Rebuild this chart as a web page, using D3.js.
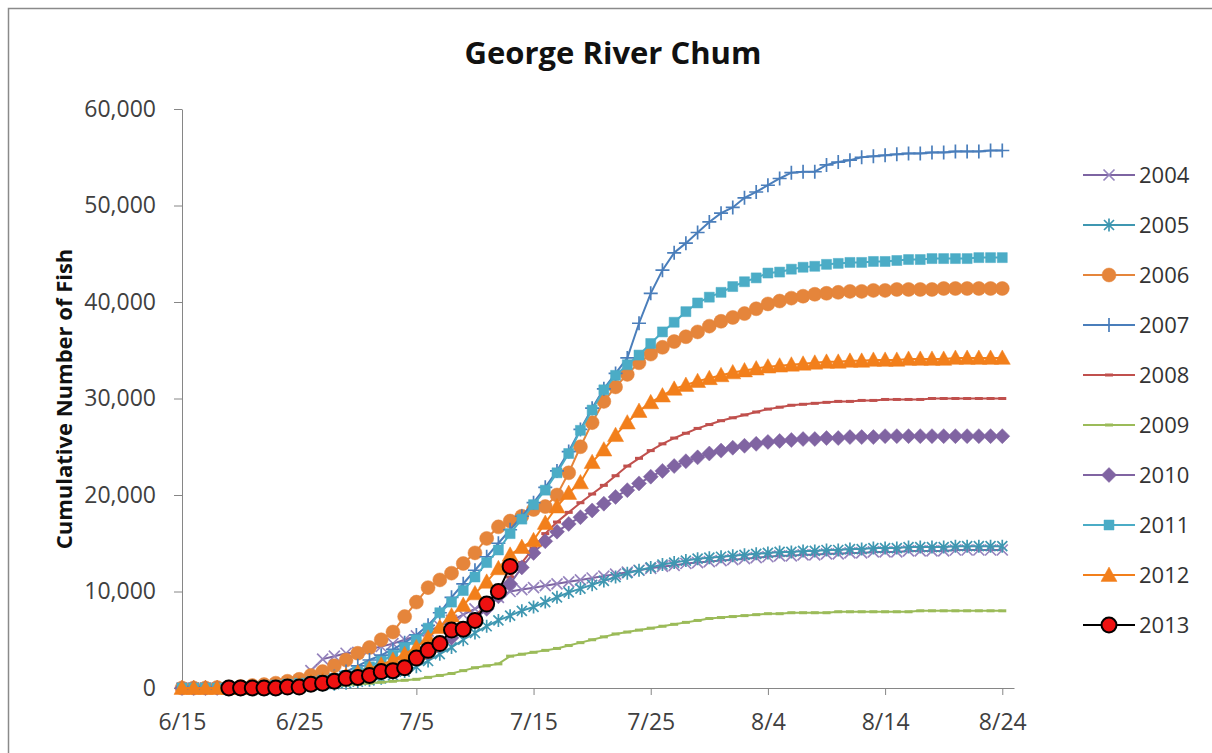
<!DOCTYPE html>
<html>
<head>
<meta charset="utf-8">
<script src="https://cdn.jsdelivr.net/npm/d3@7"></script>
<style>
  body { margin: 0; background: #fff; }
  svg { display: block; }
</style>
</head>
<body>
<svg id="chart" width="1212" height="753"></svg>
<script>
// daily cumulative counts, index 0 = 6/15 ... index 70 = 8/24
const startDay = "2013-06-15";
const endDay = "2013-08-25";
const years = ["2004", "2005", "2006", "2007", "2008", "2009", "2010", "2011", "2012", "2013"];
const yTicks = [0, 10000, 20000, 30000, 40000, 50000, 60000];
const xTickDays = [0, 10, 20, 30, 40, 50, 60, 70];

const y2004 = [0,0,0,0,0,50,100,150,250,400,
  700,1800,3000,3300,3600,3700,4000,4300,4600,5000,
  5400,5900,6400,7000,7600,8200,8800,9400,10000,10200,
  10400,10600,10800,11000,11200,11400,11600,11800,12000,12200,
  12400,12600,12700,12900,13000,13100,13200,13300,13400,13500,
  13600,13700,13700,13800,13800,13900,13900,14000,14000,14100,
  14100,14100,14200,14200,14200,14200,14300,14300,14300,14300,
  14300];
const y2005 = [0,0,0,0,0,0,0,50,100,150,
  200,250,300,400,500,650,800,1000,1300,1700,
  2200,2800,3500,4200,5000,5700,6400,7000,7500,8000,
  8400,8900,9400,9900,10300,10700,11100,11500,11900,12200,
  12500,12800,13000,13200,13400,13500,13600,13700,13800,13900,
  14000,14100,14100,14200,14200,14300,14300,14400,14400,14500,
  14500,14500,14600,14600,14600,14600,14700,14700,14700,14700,
  14700];
const y2006 = [0,0,0,50,100,150,250,350,500,700,
  900,1300,1700,2300,2900,3600,4200,5000,5800,7400,
  8900,10400,11200,11900,12900,14000,15500,16700,17300,17800,
  18500,18800,20000,22300,25000,27500,29700,31200,32500,33700,
  34600,35300,35900,36400,36900,37500,38000,38400,38800,39300,
  39800,40100,40400,40600,40800,40900,41000,41100,41100,41200,
  41200,41300,41300,41300,41300,41400,41400,41400,41400,41400,
  41400];
const y2007 = [0,0,0,0,0,0,50,100,150,200,
  300,500,800,1200,1700,2300,2900,3400,4000,4700,
  5500,6500,7800,9400,10800,12200,13600,15000,16400,17800,
  19200,20800,22500,24500,26800,29000,31000,32600,34200,37800,
  40900,43300,45100,46100,47200,48300,49200,49800,50800,51400,
  52100,52800,53400,53500,53500,54200,54500,54700,55000,55100,
  55200,55300,55400,55400,55500,55500,55600,55600,55600,55700,
  55700];
const y2008 = [0,0,0,0,0,0,0,50,100,150,
  200,300,400,550,700,900,1100,1400,1700,2100,
  2600,3200,4000,5000,6200,7500,8600,10000,11500,13000,
  14500,16000,17200,18200,19200,20100,21000,22000,23000,23800,
  24600,25300,25900,26400,26900,27300,27700,28000,28300,28600,
  28900,29100,29300,29400,29500,29600,29700,29700,29800,29800,
  29900,29900,29900,29900,30000,30000,30000,30000,30000,30000,
  30000];
const y2009 = [0,0,0,0,0,0,0,0,0,0,
  50,100,150,200,300,400,500,600,700,800,
  900,1100,1300,1500,1800,2100,2300,2500,3300,3500,
  3700,3900,4100,4400,4700,5000,5300,5600,5800,6000,
  6200,6400,6600,6800,7000,7200,7300,7400,7500,7600,
  7700,7700,7800,7800,7800,7800,7900,7900,7900,7900,
  7900,7900,7900,8000,8000,8000,8000,8000,8000,8000,
  8000];
const y2010 = [0,0,0,0,0,0,50,100,150,200,
  300,400,550,700,900,1100,1400,1700,2100,2600,
  3100,3700,4400,5200,6100,7100,8200,9500,10800,12500,
  14000,15200,16200,17000,17700,18400,19100,19800,20500,21200,
  21900,22500,23000,23500,23900,24300,24600,24900,25100,25300,
  25500,25600,25700,25800,25800,25900,25900,26000,26000,26000,
  26100,26100,26100,26100,26100,26100,26100,26100,26100,26100,
  26100];
const y2011 = [0,0,0,0,50,100,150,200,300,400,
  500,650,800,1000,1300,1700,2200,2800,3400,4200,
  5000,6200,7800,8900,10100,11500,13000,14300,16000,17500,
  19000,20500,22300,24300,26700,28800,30900,32400,33500,34500,
  35700,36900,37900,39000,39900,40500,41000,41600,42100,42500,
  43000,43100,43400,43600,43700,43900,44000,44100,44100,44200,
  44200,44300,44400,44400,44500,44500,44500,44500,44600,44600,
  44600];
const y2012 = [0,0,0,0,0,0,50,100,200,300,
  450,600,800,1000,1300,1600,2000,2400,2900,3500,
  4200,5200,6300,7500,8600,9800,11000,12400,13800,14600,
  15300,17100,18800,20200,21300,23400,24700,26200,27500,28700,
  29600,30300,31000,31400,31800,32100,32400,32700,32900,33100,
  33300,33400,33500,33600,33700,33800,33800,33900,33900,34000,
  34000,34000,34100,34100,34100,34100,34200,34200,34200,34200,
  34200];
// 2013 counts run 6/19 to 7/13
const y2013 = [null,null,null,null,0,0,0,0,0,100,
  100,400,500,700,1000,1100,1300,1700,1800,2100,
  3100,3900,4600,6000,6100,7000,8700,10000,12600];

const seriesValues = [y2004, y2005, y2006, y2007, y2008, y2009, y2010, y2011, y2012, y2013];
const lineColors = ["#7d64a2", "#3f97b1", "#e5853b", "#4a7ebb", "#c0504d", "#9bbb59", "#8064a2", "#4bacc6", "#f27f1b", "#000000"];
const markerColors = ["#9684bd", "#3f97b1", "#e5853b", "#4a7ebb", "#c0504d", "#9bbb59", "#8064a2", "#4bacc6", "#f27f1b", "#ee1111"];
const markerTypes = ["x", "star", "circle", "plus", "dash", "dash", "diamond", "square", "triangle", "circle"];

const svg = d3.select("#chart");
const parseDay = d3.timeParse("%Y-%m-%d");
const day0 = parseDay(startDay);
const dayDate = i => d3.timeDay.offset(day0, i);

const x = d3.scaleTime().domain([day0, parseDay(endDay)]).range([182, 1014]);
const y = d3.scaleLinear().domain([0, 60000]).range([688, 109]);

// frame
svg.append("rect")
  .attr("x", 8.5).attr("y", 8.5)
  .attr("width", 1300).attr("height", 900)
  .attr("fill", "#fff")
  .attr("stroke", "#8a8a8a")
  .attr("stroke-width", 1.5);

svg.append("text")
  .attr("x", 613).attr("y", 64)
  .attr("text-anchor", "middle")
  .attr("font-family", "Open Sans")
  .attr("font-weight", "bold")
  .attr("font-size", 31)
  .attr("fill", "#111")
  .text("George River Chum");

svg.append("text")
  .attr("transform", "translate(72,399) rotate(-90)")
  .attr("text-anchor", "middle")
  .attr("font-family", "Open Sans")
  .attr("font-weight", "bold")
  .attr("font-size", 22)
  .attr("fill", "#111")
  .text("Cumulative Number of Fish");

// axes
const yAxis = svg.append("g")
  .attr("transform", "translate(182,0)")
  .call(d3.axisLeft(y).tickValues(yTicks).tickFormat(d3.format(",")).tickSize(8).tickSizeOuter(0).tickPadding(18));
const xAxis = svg.append("g")
  .attr("transform", "translate(0,688)")
  .call(d3.axisBottom(x).tickValues(xTickDays.map(dayDate)).tickFormat(d3.timeFormat("%-m/%-d")).tickSize(7).tickSizeOuter(0).tickPadding(19));

[yAxis, xAxis].forEach(g => {
  g.attr("font-family", "Open Sans").attr("font-size", 23);
  g.selectAll("path, line").attr("stroke", "#868686");
  g.selectAll("text").attr("fill", "#404040");
});

function markerPath(type, s) {
  switch (type) {
    case "x": return `M${-s},${-s}L${s},${s}M${-s},${s}L${s},${-s}`;
    case "star": return `M${-s},${-s}L${s},${s}M${-s},${s}L${s},${-s}M0,${-s * 1.3}L0,${s * 1.3}`;
    case "plus": return `M${-s},0L${s},0M0,${-s}L0,${s}`;
    case "dash": return `M${-s},0L${s},0`;
    case "diamond": return `M0,${-s}L${s},0L0,${s}L${-s},0Z`;
    case "square": return `M${-s},${-s}L${s},${-s}L${s},${s}L${-s},${s}Z`;
    case "triangle": return `M0,${-s}L${s},${s * 0.8}L${-s},${s * 0.8}Z`;
  }
}

const markerSize = { x: 5.5, star: 5, plus: 7, dash: 4, diamond: 7.5, square: 5, triangle: 8, circle: 7 };

function drawMarker(g, type, color, cx, cy, last) {
  if (type === "circle") {
    g.append("circle")
      .attr("cx", cx).attr("cy", cy)
      .attr("r", last ? 7.5 : markerSize.circle)
      .attr("fill", color)
      .attr("stroke", last ? "#000" : color)
      .attr("stroke-width", last ? 2 : 0.5);
    return;
  }
  const filled = ["diamond", "square", "triangle"].includes(type);
  g.append("path")
    .attr("transform", `translate(${cx},${cy})`)
    .attr("d", markerPath(type, markerSize[type]))
    .attr("fill", filled ? color : "none")
    .attr("stroke", color)
    .attr("stroke-width", type === "dash" ? 3 : (filled ? 0.5 : 1.7));
}

const line = d3.line()
  .defined(d => d.v !== null)
  .x(d => x(d.date))
  .y(d => y(d.v));

const plot = svg.append("g");
seriesValues.forEach((vals, k) => {
  const pts = vals.map((v, i) => ({ date: dayDate(i), v: v }));
  const g = plot.append("g");
  g.append("path")
    .datum(pts)
    .attr("d", line)
    .attr("fill", "none")
    .attr("stroke", lineColors[k])
    .attr("stroke-width", 2);
  pts.filter(p => p.v !== null).forEach(p => {
    drawMarker(g, markerTypes[k], markerColors[k], x(p.date), y(p.v), k === 9);
  });
});

// legend
const legend = svg.append("g");
years.forEach((yr, k) => {
  const ly = 175 + k * 50;
  legend.append("line")
    .attr("x1", 1083).attr("x2", 1135)
    .attr("y1", ly).attr("y2", ly)
    .attr("stroke", lineColors[k])
    .attr("stroke-width", 2);
  drawMarker(legend, markerTypes[k], markerColors[k], 1109, ly, k === 9);
  legend.append("text")
    .attr("x", 1139).attr("y", ly)
    .attr("dy", "0.36em")
    .attr("font-family", "Open Sans")
    .attr("font-size", 22)
    .attr("fill", "#333")
    .text(yr);
});
</script>
</body>
</html>
